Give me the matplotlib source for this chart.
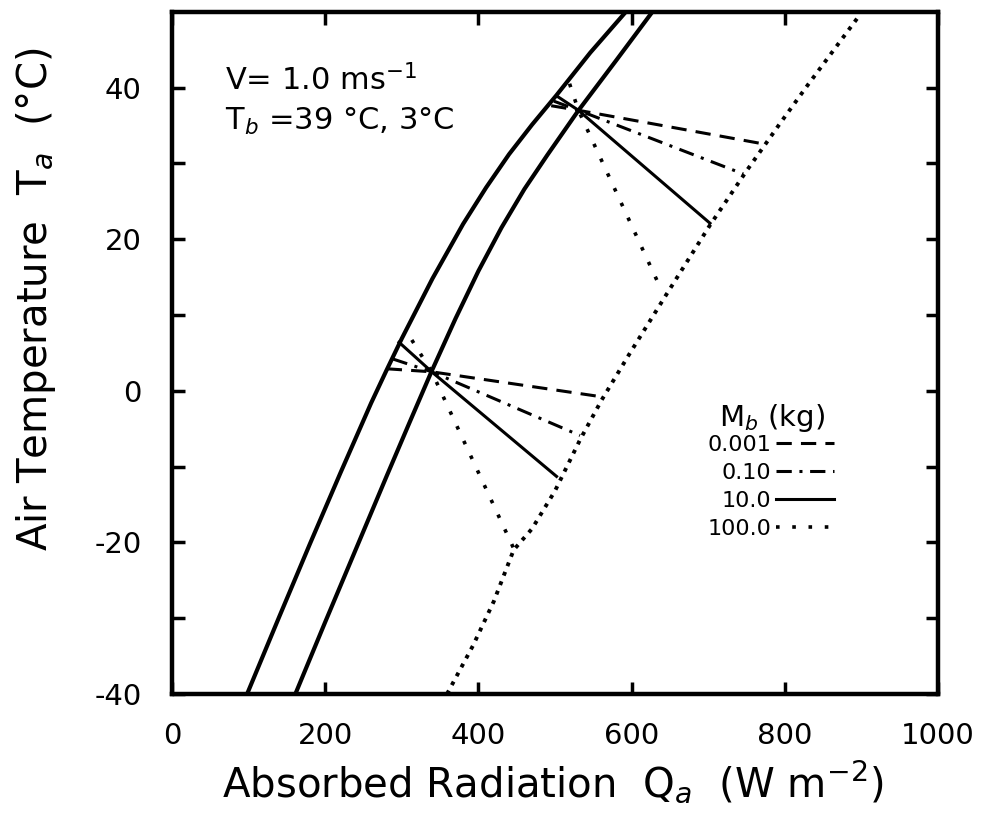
import matplotlib
matplotlib.use("Agg")
import matplotlib.pyplot as plt
from matplotlib.lines import Line2D

# body temperature limits (solid boundary curves)
left_q = [98, 140, 180, 220, 260, 280, 300, 340, 380, 410, 440, 470, 502, 546, 590]
left_t = [-40, -29.8, -20.2, -10.8, -1.6, 2.7, 6.9, 14.8, 22.0, 26.8, 31.2, 35.1, 39.0, 44.6, 49.7]
right_q = [161, 200, 240, 280, 310, 339, 370, 400, 430, 460, 490, 530, 580, 625]
right_t = [-40, -30.5, -20.9, -11.3, -4.2, 2.6, 9.5, 15.8, 21.5, 26.6, 31.1, 36.9, 43.6, 49.7]

# outer dotted limit
outer_q = [359, 393, 420, 446, 470, 500, 533, 561, 598, 646, 702, 750, 794, 829, 876, 898]
outer_t = [-40, -33.6, -27.8, -21.0, -18.2, -13.2, -6.4, -1.2, 5.0, 12.8, 21.8, 29.0, 35.3, 40.2, 46.6, 49.6]

masses = ["0.001", "0.10", "10.0", "100.0"]

# upper fan (Tb = 39 C): start on left curve, meet at pivot, end on dotted curve
up_pivot = (530.5, 37.0)
up_start_q = [495, 498.5, 502, 519]
up_start_t = [37.6, 38.2, 38.9, 40.5]
up_end_q = [770, 745.8, 702.3, 639.3]
up_end_t = [32.6, 28.6, 22.1, 13.2]

# lower fan (Tb = 3 C)
lo_pivot = (339, 2.5)
lo_start_q = [280.3, 288, 296.3, 313]
lo_start_t = [2.9, 4.2, 6.4, 6.7]
lo_end_q = [561, 532.6, 502, 446]
lo_end_t = [-0.8, -5.9, -11.3, -20.8]

styles = [
    dict(linestyle=(0, (5, 3)), linewidth=2.2),
    dict(linestyle=(0, (5, 2.5, 1, 2.5)), linewidth=2.2),
    dict(linestyle="-", linewidth=2.2),
    dict(linestyle=(0, (1, 3.5)), linewidth=2.6),
]

plt.rcParams["font.family"] = "DejaVu Sans"
plt.rcParams["axes.unicode_minus"] = False

fig = plt.figure(figsize=(9.82, 8.32), dpi=100)
ax = fig.add_axes([0.1752, 0.1659, 0.78, 0.82])

ax.plot(left_q, left_t, color="black", linewidth=3)
ax.plot(right_q, right_t, color="black", linewidth=3)
ax.plot(outer_q, outer_t, color="black", linestyle=(0, (1, 1.6)), linewidth=2.8)

for i in range(len(masses)):
    ax.plot([up_start_q[i], up_pivot[0], up_end_q[i]],
            [up_start_t[i], up_pivot[1], up_end_t[i]], color="black", **styles[i])
    ax.plot([lo_start_q[i], lo_pivot[0], lo_end_q[i]],
            [lo_start_t[i], lo_pivot[1], lo_end_t[i]], color="black", **styles[i])

ax.set_xlim(0, 1000)
ax.set_ylim(-40, 50)
ax.set_xticks([0, 200, 400, 600, 800, 1000])
ax.set_yticks([-40, -20, 0, 20, 40])
ax.set_yticks([-30, -10, 10, 30], minor=True)
ax.tick_params(which="both", direction="in", length=9, width=2.5,
               top=True, right=True, labelsize=21)
ax.tick_params(axis="x", pad=20)
ax.tick_params(axis="y", pad=22)
for s in ax.spines.values():
    s.set_linewidth(3.2)

ax.set_xlabel("Absorbed Radiation  Q$_a$  (W m$^{-2}$)", fontsize=29)
ax.set_ylabel("Air Temperature  T$_a$  (°C)", fontsize=29)
ax.xaxis.set_label_coords(0.497, -0.095)
ax.yaxis.set_label_coords(-0.149, 0.578)

ax.text(69, 39.6, "V= 1.0 ms$^{-1}$", fontsize=22)
ax.text(69, 34.4, "T$_b$ =39 °C, 3°C", fontsize=22)

# legend for body mass, title drawn separately so it sits close to the entries
ax.text(0.783, 0.405, "M$_b$ (kg)", fontsize=21, ha="center", va="center",
        transform=ax.transAxes)
handles = [Line2D([], [], color="black", **st) for st in styles]
leg = ax.legend(handles, masses, markerfirst=False,
                frameon=False, fontsize=16,
                handlelength=2.6, handletextpad=0.2, labelspacing=0.36,
                loc="upper right", bbox_to_anchor=(0.89, 0.409))

fig.savefig("out.png", dpi=100)
